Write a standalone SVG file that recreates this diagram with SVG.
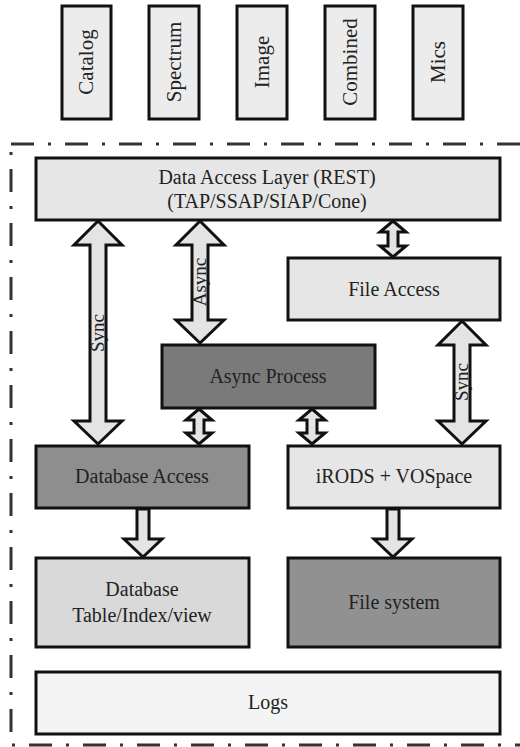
<svg xmlns="http://www.w3.org/2000/svg" width="520" height="747" viewBox="0 0 520 747">
<style>
  .box { stroke: #111; stroke-width: 3; }
  .lbl { font-family: "Liberation Serif", "Times New Roman", serif; font-size: 20px; fill: #222; text-anchor: middle; }
  .top { font-family: "Liberation Serif", "Times New Roman", serif; font-size: 21px; fill: #222; text-anchor: middle; }
  .arr { fill: #e4e4e4; stroke: #111; stroke-width: 3; stroke-linejoin: miter; }
  .alb { font-family: "Liberation Serif", "Times New Roman", serif; font-size: 19px; fill: #222; text-anchor: middle; }
  .frame { fill: none; stroke: #333; stroke-width: 3; stroke-dasharray: 23 14 3 14; }
</style>
<rect width="520" height="747" fill="#ffffff"/>
<rect class="frame" x="11" y="144" width="530" height="601"/>

<g id="catalog"><rect class="box" x="62" y="6" width="49" height="113" fill="#ececec"/><text class="top" transform="translate(93,62) rotate(-90)">Catalog</text></g>
<g id="spectrum"><rect class="box" x="149" y="6" width="50" height="113" fill="#ececec"/><text class="top" transform="translate(181,62) rotate(-90)">Spectrum</text></g>
<g id="image"><rect class="box" x="237" y="6" width="50" height="113" fill="#ececec"/><text class="top" transform="translate(269,62) rotate(-90)">Image</text></g>
<g id="combined"><rect class="box" x="325" y="6" width="50" height="113" fill="#ececec"/><text class="top" transform="translate(357,62) rotate(-90)">Combined</text></g>
<g id="mics"><rect class="box" x="413" y="6" width="50" height="113" fill="#ececec"/><text class="top" transform="translate(445,62) rotate(-90)">Mics</text></g>

<g id="dal"><rect class="box" x="36" y="158" width="464" height="62" fill="#e6e6e6"/>
  <text class="lbl" x="267" y="184">Data Access Layer (REST)</text>
  <text class="lbl" x="267" y="208">(TAP/SSAP/SIAP/Cone)</text></g>
<g id="file-access"><rect class="box" x="288" y="258" width="212" height="62" fill="#e6e6e6"/><text class="lbl" x="394" y="296">File Access</text></g>
<g id="async-process"><rect class="box" x="162" y="345" width="213" height="63" fill="#7a7a7a"/><text class="lbl" x="268" y="383">Async Process</text></g>
<g id="database-access"><rect class="box" x="36" y="446" width="213" height="62" fill="#8e8e8e"/><text class="lbl" x="142" y="483">Database Access</text></g>
<g id="irods"><rect class="box" x="288" y="446" width="212" height="62" fill="#e6e6e6"/><text class="lbl" x="394" y="483">iRODS + VOSpace</text></g>
<g id="database-table"><rect class="box" x="36" y="558" width="213" height="89" fill="#d9d9d9"/>
  <text class="lbl" x="142" y="596">Database</text>
  <text class="lbl" x="142" y="622">Table/Index/view</text></g>
<g id="file-system"><rect class="box" x="288" y="558" width="212" height="89" fill="#919191"/><text class="lbl" x="394" y="609">File system</text></g>
<g id="logs"><rect class="box" x="36" y="672" width="464" height="62" fill="#f4f4f4"/><text class="lbl" x="268" y="709">Logs</text></g>

<g id="connectors">
  <polygon class="arr" points="98,221 122,245 106,245 106,421 122,421 98,444 74,421 90,421 90,245 74,245"/>
  <text class="alb" transform="translate(104,333) rotate(-90)">Sync</text>
  <polygon class="arr" points="200,221 224,245 208,245 208,320 224,320 200,343 176,320 192,320 192,245 176,245"/>
  <text class="alb" transform="translate(206,282) rotate(-90)">Async</text>
  <polygon class="arr" points="393,221 406,232 398,232 398,246 406,246 393,257 380,246 388,246 388,232 380,232"/>
  <polygon class="arr" points="462,321 486,345 470,345 470,421 486,421 462,444 438,421 454,421 454,345 438,345"/>
  <text class="alb" transform="translate(468,382) rotate(-90)">Sync</text>
  <polygon class="arr" points="199,409 212,420 204,420 204,433 212,433 199,444 186,433 194,433 194,420 186,420"/>
  <polygon class="arr" points="312,409 325,420 317,420 317,433 325,433 312,444 299,433 307,433 307,420 299,420"/>
  <polygon class="arr" points="137,509 149,509 149,539 162,539 143,557 124,539 137,539"/>
  <polygon class="arr" points="387,509 399,509 399,539 412,539 393,557 374,539 387,539"/>
</g>
</svg>
